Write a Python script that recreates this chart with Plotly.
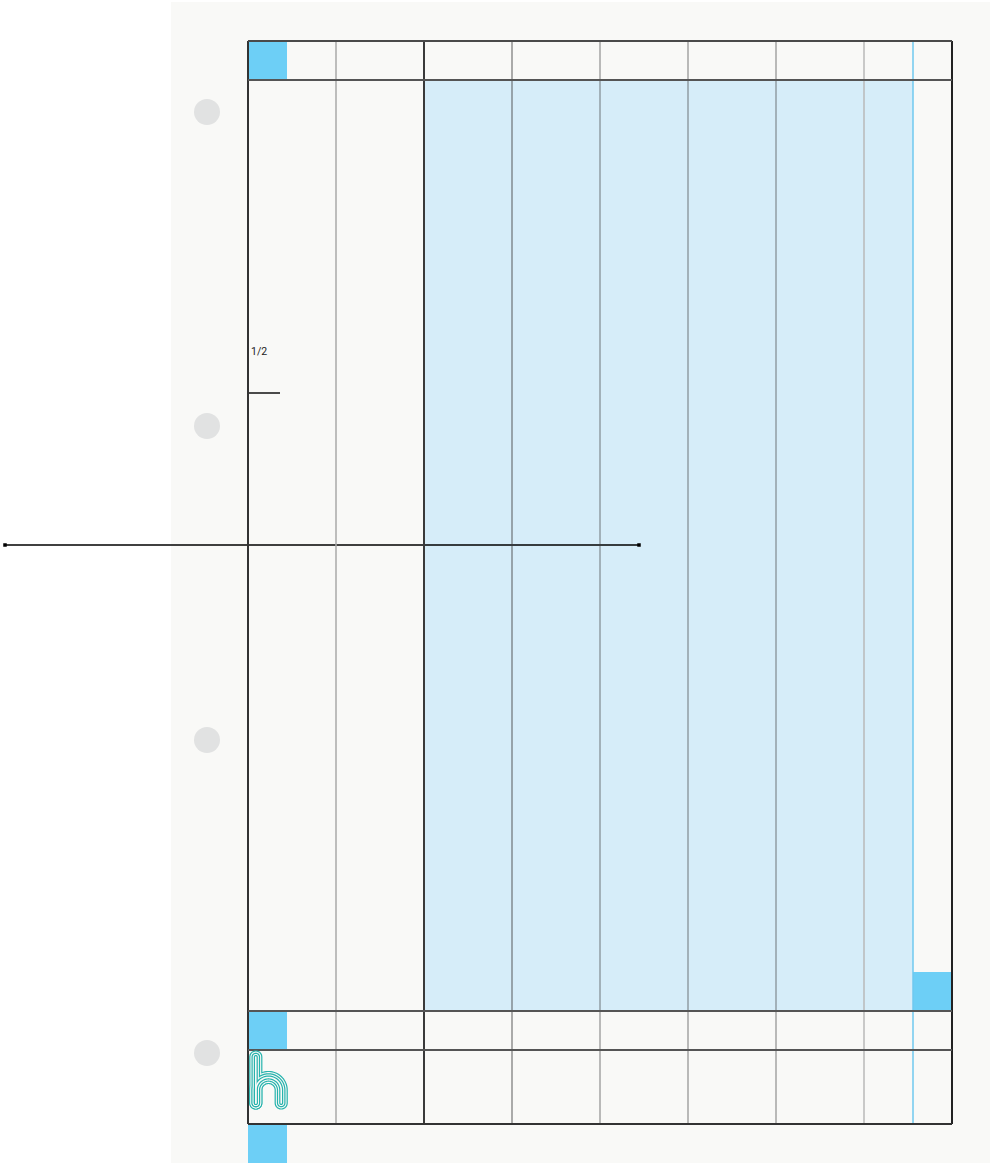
import numpy as np
import plotly.graph_objects as go

# ---- planner page grid values (pixel units of the page) ----
col_edges = [248, 336, 424, 512, 600, 688, 776, 864, 913, 952]
col_colors = ["#333333", "#a8a8a8", "#3a3a3a", "rgba(60,60,60,0.55)", "rgba(60,60,60,0.45)",
              "rgba(60,60,60,0.45)", "rgba(60,60,60,0.45)", "#b8b8b8", "#6fc9ef", "#222222"]
row_edges = [41, 80, 1011, 1050, 1124]
row_colors = ["#4a4a4a", "#555555", "#555555", "#555555", "#333333"]
shade_cols = [424, 913]
shade_rows = [80, 1011]
tabs = [(248, 287, 41, 80), (913, 952, 972, 1011), (248, 287, 1011, 1050), (248, 287, 1124, 1163)]
hole_y = [112, 426, 740, 1053]
hole_x = 207
fold_line_x = [5, 639]
fold_line_y = [545, 545]
half_mark_x = [248, 280]
half_mark_y = [393, 393]
half_label = "1/2"

PAGE = "#f9f9f7"
W, H = 990, 1163

fig = go.Figure()
shapes = []

# page
shapes.append(dict(type="rect", xref="x", yref="y", x0=171, x1=W, y0=2, y1=H,
                   fillcolor=PAGE, line=dict(width=0), layer="below"))
# shaded block
shapes.append(dict(type="rect", xref="x", yref="y", x0=shade_cols[0], x1=shade_cols[1],
                   y0=shade_rows[0], y1=shade_rows[1], fillcolor="#d6edf9", line=dict(width=0),
                   layer="below"))
# bright tabs
for x0, x1, y0, y1 in tabs:
    shapes.append(dict(type="rect", xref="x", yref="y", x0=x0, x1=x1, y0=y0, y1=y1,
                       fillcolor="#6dcff6", line=dict(width=0), layer="below"))
# punch holes
for y in hole_y:
    shapes.append(dict(type="circle", xref="x", yref="y", x0=hole_x - 13, x1=hole_x + 13,
                       y0=y - 13, y1=y + 13, fillcolor="#e1e2e2", line=dict(width=0), layer="below"))
# vertical lines
for x, c in zip(col_edges, col_colors):
    wdt = 2 if c in ("#222222", "#333333", "#3a3a3a") else 1.5
    shapes.append(dict(type="line", xref="x", yref="y", x0=x, x1=x, y0=row_edges[0], y1=row_edges[-1],
                       line=dict(color=c, width=wdt)))
# horizontal lines
for y, c in zip(row_edges, row_colors):
    shapes.append(dict(type="line", xref="x", yref="y", x0=col_edges[0], x1=col_edges[-1], y0=y, y1=y,
                       line=dict(color=c, width=2)))

# ---- logo "h" built from layered strokes ----
def arc(cx, cy, r, a0, a1, n=24):
    t = np.linspace(a0, a1, n)
    return [(cx + r * np.cos(a), cy - r * np.sin(a)) for a in t]

def path_from(pts):
    return "M " + " L ".join(f"{x:.2f},{y:.2f}" for x, y in pts) + " Z"

def stem(cx, ytop, ybot, w):
    pts = arc(cx, ytop, w, np.pi, 0)
    pts += arc(cx, ybot, w, 0, -np.pi)
    return path_from(pts)

def arch(cx, cy, R, yb, w):
    pts = [(cx - R - w, yb)]
    pts += arc(cx, cy, R + w, np.pi, 0, 40)
    pts += arc(cx + R, yb, w, 0, -np.pi)
    pts += arc(cx, cy, R - w, 0, np.pi, 40)
    pts += arc(cx - R, yb, w, 0, -np.pi)
    return path_from(pts)

layers = [(6.6, "#26b3ad"), (5.4, PAGE), (4.3, "#26b3ad"), (3.1, PAGE), (2.0, "#26b3ad"), (0.8, PAGE)]
for w, c in layers:
    for p in (stem(255.8, 1057, 1103, w), arch(268.5, 1090.2, 12.7, 1103, w)):
        shapes.append(dict(type="path", xref="x", yref="y", path=p, fillcolor=c, line=dict(width=0)))

# fold line and half mark
fig.add_trace(go.Scatter(x=fold_line_x, y=fold_line_y, mode="lines+markers",
                         line=dict(color="#000000", width=1.5),
                         marker=dict(symbol="square", size=3.5, color="#000000"),
                         hoverinfo="skip", showlegend=False))
fig.add_trace(go.Scatter(x=half_mark_x, y=half_mark_y, mode="lines",
                         line=dict(color="#111111", width=1.5),
                         hoverinfo="skip", showlegend=False))

fig.add_annotation(x=248.5, y=351, xref="x", yref="y", text=half_label, showarrow=False,
                   xanchor="left", yanchor="middle",
                   font=dict(family="Roboto, Arial, sans-serif", size=10.5, color="#222222"))

fig.update_layout(
    width=W, height=H, margin=dict(l=0, r=0, t=0, b=0),
    paper_bgcolor="white", plot_bgcolor="white", shapes=shapes, showlegend=False,
    xaxis=dict(range=[0, W], visible=False, fixedrange=True),
    yaxis=dict(range=[H, 0], visible=False, fixedrange=True),
)
fig.write_html("out.html", config={"displayModeBar": False},
               post_script="document.body.style.margin='0';document.body.style.padding='0';document.body.style.overflow='hidden';")
